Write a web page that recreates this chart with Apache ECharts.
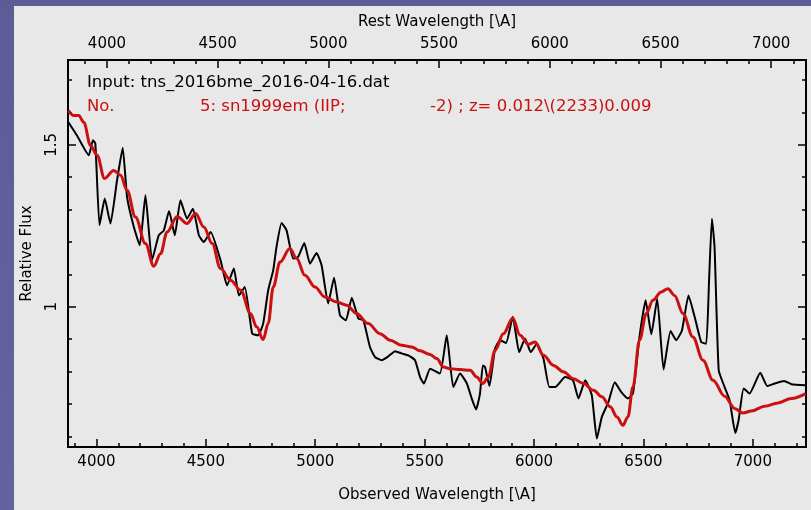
<!DOCTYPE html>
<html>
<head>
<meta charset="utf-8">
<script src="https://cdn.jsdelivr.net/npm/echarts@6/dist/echarts.min.js"></script>
<style>
  html, body { margin: 0; padding: 0; }
  body { width: 811px; height: 510px; position: relative; overflow: hidden; background: linear-gradient(#5c5c97, #63639f); }
  #panel { position: absolute; left: 14px; top: 6px; right: 0; bottom: 0; background: #e8e8e8; }
  #main { position: absolute; left: 0; top: 0; width: 811px; height: 510px; }
</style>
</head>
<body>
<div id="panel"></div>
<div id="main"></div>
<script>
// observed spectrum (black)
const obsWave = [3872, 3911, 3965, 3984, 3995, 4014, 4038, 4064, 4094, 4120, 4140, 4171, 4198, 4224, 4254, 4285, 4308, 4332, 4358, 4384,
  4414, 4441, 4468, 4491, 4522, 4567, 4597, 4628, 4651, 4678, 4712, 4739, 4762, 4785, 4808, 4823, 4846, 4869, 4899, 4922,
  4950, 4976, 5006, 5029, 5059, 5086, 5113, 5140, 5167, 5197, 5220, 5250, 5273, 5304, 5334, 5365, 5395, 5425, 5456, 5479,
  5497, 5525, 5570, 5601, 5631, 5662, 5693, 5715, 5735, 5753, 5766, 5776, 5796, 5822, 5845, 5872, 5903, 5932, 5959, 5985,
  6013, 6043, 6070, 6097, 6142, 6178, 6203, 6234, 6264, 6287, 6310, 6340, 6369, 6398, 6429, 6452, 6482, 6510, 6536, 6563,
  6592, 6624, 6650, 6676, 6706, 6734, 6764, 6787, 6800, 6813, 6825, 6844, 6871, 6894, 6920, 6935, 6958, 6985, 7034, 7066,
  7100, 7143, 7176, 7242];
const obsFlux = [1.570, 1.529, 1.468, 1.514, 1.504, 1.252, 1.334, 1.257, 1.390, 1.491, 1.339, 1.246, 1.190, 1.344, 1.144, 1.221, 1.236, 1.296, 1.221, 1.329,
  1.272, 1.303, 1.221, 1.200, 1.231, 1.144, 1.066, 1.118, 1.035, 1.061, 0.917, 0.912, 0.948, 1.051, 1.113, 1.185, 1.259, 1.236, 1.149, 1.154,
  1.197, 1.133, 1.166, 1.128, 1.010, 1.090, 0.974, 0.958, 1.028, 0.964, 0.958, 0.876, 0.845, 0.835, 0.847, 0.863, 0.856, 0.850, 0.835, 0.783,
  0.763, 0.809, 0.794, 0.912, 0.752, 0.794, 0.763, 0.717, 0.683, 0.732, 0.819, 0.814, 0.755, 0.871, 0.897, 0.888, 0.969, 0.860, 0.902, 0.860,
  0.886, 0.840, 0.752, 0.752, 0.783, 0.773, 0.717, 0.773, 0.727, 0.593, 0.660, 0.706, 0.767, 0.737, 0.717, 0.732, 0.907, 1.020, 0.915, 1.025,
  0.806, 0.925, 0.897, 0.927, 1.035, 0.969, 0.891, 0.886, 1.082, 1.272, 1.185, 0.804, 0.752, 0.711, 0.610, 0.650, 0.748, 0.732, 0.796, 0.755,
  0.763, 0.771, 0.761, 0.758];

// template sn1999em (red)
const tplWave = [3872, 3896, 3919, 3942, 3973, 4003, 4037, 4079, 4110, 4140, 4178, 4224, 4262, 4293, 4323, 4369, 4414, 4453, 4491, 4529,
  4567, 4613, 4659, 4704, 4732, 4762, 4785, 4808, 4839, 4884, 4915, 4953, 4999, 5044, 5098, 5144, 5189, 5242, 5296, 5342,
  5395, 5441, 5479, 5525, 5555, 5586, 5616, 5662, 5708, 5738, 5766, 5791, 5822, 5860, 5903, 5936, 5974, 6005, 6043, 6089,
  6134, 6180, 6226, 6272, 6310, 6348, 6379, 6406, 6429, 6452, 6482, 6513, 6543, 6581, 6612, 6642, 6681, 6726, 6772, 6818,
  6871, 6917, 6955, 6993, 7054, 7115, 7176, 7242];
const tplFlux = [1.606, 1.591, 1.591, 1.570, 1.498, 1.468, 1.396, 1.421, 1.406, 1.360, 1.277, 1.195, 1.125, 1.164, 1.231, 1.279, 1.257, 1.288, 1.246, 1.195,
  1.118, 1.082, 1.051, 0.979, 0.938, 0.899, 0.948, 1.061, 1.138, 1.180, 1.149, 1.097, 1.061, 1.030, 1.015, 1.005, 0.979, 0.948, 0.917, 0.897,
  0.881, 0.876, 0.864, 0.853, 0.840, 0.814, 0.809, 0.806, 0.804, 0.783, 0.763, 0.783, 0.866, 0.917, 0.965, 0.912, 0.884, 0.891, 0.850, 0.819,
  0.799, 0.778, 0.763, 0.742, 0.722, 0.691, 0.660, 0.634, 0.660, 0.752, 0.897, 0.979, 1.020, 1.046, 1.056, 1.035, 0.979, 0.907, 0.835, 0.773,
  0.724, 0.686, 0.672, 0.678, 0.693, 0.703, 0.717, 0.732];

const redshift = 0.012;
const obsMin = 3870, obsMax = 7243;
const fluxMin = 0.567, fluxMax = 1.762;
const obsLabels = [4000, 4500, 5000, 5500, 6000, 6500, 7000];
const restLabels = [4000, 4500, 5000, 5500, 6000, 6500, 7000];
const fluxLabels = [1, 1.5];
const obsMinor = [];
for (let v = 3900; v <= 7200; v += 100) obsMinor.push(v);
const restMinor = [];
for (let v = 3900; v <= 7100; v += 100) restMinor.push(v);
const fluxMinor = [0.6, 0.7, 0.8, 0.9, 1.0, 1.1, 1.2, 1.3, 1.4, 1.5, 1.6, 1.7];

const font = 'DejaVu Sans';
const red = '#cc1010';
const line = { show: true, lineStyle: { color: '#000', width: 2 } };

const chart = echarts.init(document.getElementById('main'));

function xAx(pos, min, max, ticks, len, labels, name, gap) {
  return {
    type: 'value', position: pos, min: min, max: max, gridIndex: 0,
    axisLine: line,
    splitLine: { show: false },
    axisTick: { show: true, inside: true, length: len, customValues: ticks, lineStyle: { color: '#000', width: 1.5 } },
    axisLabel: labels ? { show: true, customValues: labels, color: '#000', fontSize: 15, fontFamily: font, margin: 8,
      formatter: v => String(v) } : { show: false },
    name: name || '', nameLocation: 'middle', nameGap: gap,
    nameTextStyle: { color: '#000', fontSize: 15, fontFamily: font }
  };
}
function yAx(pos, ticks, len, labels, name) {
  return {
    type: 'value', position: pos, min: fluxMin, max: fluxMax,
    axisLine: line,
    splitLine: { show: false },
    axisTick: { show: true, inside: true, length: len, customValues: ticks, lineStyle: { color: '#000', width: 1.5 } },
    axisLabel: labels ? { show: true, customValues: labels, rotate: 90, color: '#000', fontSize: 15, fontFamily: font, margin: 8,
      formatter: v => (v === 1 ? '1' : v.toFixed(1)) } : { show: false },
    name: name || '', nameLocation: 'middle', nameGap: 33, nameRotate: 90,
    nameTextStyle: { color: '#000', fontSize: 15, fontFamily: font }
  };
}

const option = {
  animation: false,
  backgroundColor: 'transparent',
  grid: { left: 68, top: 60, right: 5, bottom: 63 },
  xAxis: [
    xAx('bottom', obsMin, obsMax, obsLabels, 8, obsLabels, 'Observed Wavelength [\\A]', 41),
    xAx('bottom', obsMin, obsMax, obsMinor, 4),
    xAx('top', obsMin / (1 + redshift), obsMax / (1 + redshift), restLabels, 8, restLabels, 'Rest Wavelength [\\A]', 30),
    xAx('top', obsMin / (1 + redshift), obsMax / (1 + redshift), restMinor, 4)
  ],
  yAxis: [
    yAx('left', fluxLabels, 8, fluxLabels, 'Relative Flux'),
    yAx('left', fluxMinor, 4),
    yAx('right', fluxLabels, 8),
    yAx('right', fluxMinor, 4)
  ],
  series: [
    {
      type: 'line', xAxisIndex: 0, yAxisIndex: 0, showSymbol: false, smooth: 0.15,
      lineStyle: { color: '#000', width: 2 },
      data: obsWave.map((w, i) => [w, obsFlux[i]])
    },
    {
      type: 'line', xAxisIndex: 0, yAxisIndex: 0, showSymbol: false, smooth: 0.35, smoothMonotone: 'x',
      lineStyle: { color: red, width: 3 },
      data: tplWave.map((w, i) => [w, tplFlux[i]])
    }
  ],
  graphic: [
    { type: 'text', left: 87, top: 74, style: { text: 'Input: tns_2016bme_2016-04-16.dat', fill: '#000', font: '16.5px ' + font } },
    { type: 'text', left: 87, top: 98, style: { text: 'No.', fill: red, font: '16.5px ' + font } },
    { type: 'text', left: 200, top: 98, style: { text: '5: sn1999em (IIP;', fill: red, font: '16.5px ' + font } },
    { type: 'text', left: 430, top: 98, style: { text: '-2) ; z= 0.012\\(2233)0.009', fill: red, font: '16.5px ' + font } }
  ]
};

chart.setOption(option);
</script>
</body>
</html>
